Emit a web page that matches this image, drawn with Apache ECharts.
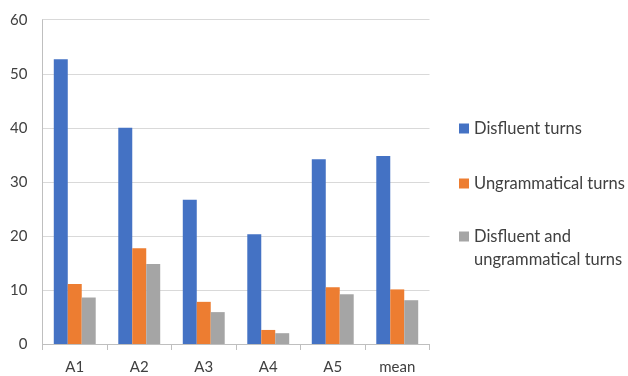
<!DOCTYPE html>
<html>
<head>
<meta charset="utf-8">
<script src="https://cdn.jsdelivr.net/npm/echarts@6/dist/echarts.min.js"></script>
<style>
  html, body { margin: 0; padding: 0; background: #fff; }
  #chart { width: 628px; height: 376px; }
</style>
</head>
<body>
<div id="chart"></div>
<script>
// Categories along the x axis
const categories = ['A1', 'A2', 'A3', 'A4', 'A5', 'mean'];

// Series values
const disfluentTurns = [52.7, 40.0, 26.7, 20.3, 34.2, 34.8];
const ungrammaticalTurns = [11.1, 17.7, 7.8, 2.6, 10.5, 10.1];
const disfluentAndUngrammatical = [8.6, 14.8, 5.9, 2.0, 9.2, 8.1];

// Series names; the last one wraps onto a second line in the legend
const seriesNames = ['Disfluent turns', 'Ungrammatical turns', 'Disfluent and ungrammatical turns'];
const lastNameLines = ['Disfluent and', 'ungrammatical turns'];

const FONT = 'Lato, "Open Sans", sans-serif';
const TEXT_COLOR = '#404040';
const LEGEND_FONT_SIZE = 16.5;
const colors = ['#4472C4', '#ED7D31', '#A5A5A5'];

const chart = echarts.init(document.getElementById('chart'), null, { renderer: 'canvas' });

function legendFor(name, top, formatter) {
  return {
    data: [name],
    left: 454,
    top: top,
    orient: 'vertical',
    itemWidth: 10,
    itemHeight: 10,
    itemGap: 0,
    icon: 'rect',
    selectedMode: false,
    formatter: formatter || '{name}',
    textStyle: {
      fontFamily: FONT,
      fontSize: LEGEND_FONT_SIZE,
      color: TEXT_COLOR
    }
  };
}

chart.setOption({
  animation: false,
  color: colors,
  grid: { left: 42.5, right: 198.5, top: 19.7, bottom: 32, containLabel: false },
  legend: [
    legendFor(seriesNames[0], 115),
    legendFor(seriesNames[1], 170),
    legendFor(seriesNames[2], 223, function () { return lastNameLines[0]; })
  ],
  graphic: [{
    type: 'text',
    left: 474,
    top: 261 - LEGEND_FONT_SIZE * 0.62,
    silent: true,
    style: {
      text: lastNameLines[1],
      fontFamily: FONT,
      fontSize: LEGEND_FONT_SIZE,
      fill: TEXT_COLOR
    }
  }],
  xAxis: {
    type: 'category',
    data: categories,
    axisLine: { show: true, lineStyle: { color: '#bfbfbf', width: 1 } },
    axisTick: { show: true, length: 6, lineStyle: { color: '#bfbfbf' } },
    axisLabel: { fontFamily: FONT, fontSize: 15, color: TEXT_COLOR, margin: 16 }
  },
  yAxis: {
    type: 'value',
    min: 0,
    max: 60,
    interval: 10,
    axisLine: { show: true, lineStyle: { color: '#bfbfbf', width: 1 } },
    axisTick: { show: false },
    axisLabel: { fontFamily: FONT, fontSize: 15, color: TEXT_COLOR, margin: 15 },
    splitLine: { lineStyle: { color: '#d9d9d9', width: 1 } }
  },
  series: [
    { name: seriesNames[0], type: 'bar', data: disfluentTurns, barGap: '0%', barCategoryGap: '35%' },
    { name: seriesNames[1], type: 'bar', data: ungrammaticalTurns, barGap: '0%', barCategoryGap: '35%' },
    { name: seriesNames[2], type: 'bar', data: disfluentAndUngrammatical, barGap: '0%', barCategoryGap: '35%' }
  ]
});
</script>
</body>
</html>
